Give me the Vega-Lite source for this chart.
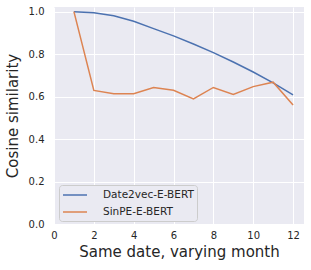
{
  "$schema": "https://vega.github.io/schema/vega-lite/v6.json",
  "autosize": "none",
  "width": 250,
  "height": 217,
  "padding": {"left": 54, "top": 7, "right": 7, "bottom": 46},
  "background": "white",
  "config": {
    "view": {"fill": "#EAEAF2", "stroke": null},
    "font": "DejaVu Sans",
    "axis": {
      "grid": true, "gridColor": "white", "gridWidth": 1, "gridOpacity": 1,
      "domain": false, "ticks": false,
      "labelColor": "#262626", "labelFontSize": 10, "labelFont": "DejaVu Sans",
      "titleColor": "#262626", "titleFontSize": 15, "titleFontWeight": "normal", "titleFont": "DejaVu Sans"
    }
  },
  "data": {
    "values": [
      {"month": 1, "sim": 1.0, "model": "Date2vec-E-BERT"},
      {"month": 2, "sim": 0.995, "model": "Date2vec-E-BERT"},
      {"month": 3, "sim": 0.981, "model": "Date2vec-E-BERT"},
      {"month": 4, "sim": 0.955, "model": "Date2vec-E-BERT"},
      {"month": 5, "sim": 0.92, "model": "Date2vec-E-BERT"},
      {"month": 6, "sim": 0.886, "model": "Date2vec-E-BERT"},
      {"month": 7, "sim": 0.848, "model": "Date2vec-E-BERT"},
      {"month": 8, "sim": 0.807, "model": "Date2vec-E-BERT"},
      {"month": 9, "sim": 0.763, "model": "Date2vec-E-BERT"},
      {"month": 10, "sim": 0.716, "model": "Date2vec-E-BERT"},
      {"month": 11, "sim": 0.665, "model": "Date2vec-E-BERT"},
      {"month": 12, "sim": 0.608, "model": "Date2vec-E-BERT"},
      {"month": 1, "sim": 1.0, "model": "SinPE-E-BERT"},
      {"month": 2, "sim": 0.629, "model": "SinPE-E-BERT"},
      {"month": 3, "sim": 0.614, "model": "SinPE-E-BERT"},
      {"month": 4, "sim": 0.614, "model": "SinPE-E-BERT"},
      {"month": 5, "sim": 0.643, "model": "SinPE-E-BERT"},
      {"month": 6, "sim": 0.63, "model": "SinPE-E-BERT"},
      {"month": 7, "sim": 0.589, "model": "SinPE-E-BERT"},
      {"month": 8, "sim": 0.643, "model": "SinPE-E-BERT"},
      {"month": 9, "sim": 0.61, "model": "SinPE-E-BERT"},
      {"month": 10, "sim": 0.647, "model": "SinPE-E-BERT"},
      {"month": 11, "sim": 0.668, "model": "SinPE-E-BERT"},
      {"month": 12, "sim": 0.561, "model": "SinPE-E-BERT"}
    ]
  },
  "mark": {"type": "line", "strokeWidth": 1.5},
  "encoding": {
    "x": {
      "field": "month", "type": "quantitative",
      "scale": {"domain": [0, 12.55], "nice": false, "zero": false},
      "axis": {"values": [0, 2, 4, 6, 8, 10, 12], "title": "Same date, varying month", "labelPadding": 6, "titlePadding": 4, "labelFlush": false}
    },
    "y": {
      "field": "sim", "type": "quantitative",
      "scale": {"domain": [0, 1.022], "nice": false, "zero": false},
      "axis": {"values": [0, 0.2, 0.4, 0.6, 0.8, 1.0], "format": ".1f", "title": "Cosine similarity", "labelPadding": 10, "titlePadding": 8, "labelFlush": false}
    },
    "color": {
      "field": "model", "type": "nominal",
      "scale": {"domain": ["Date2vec-E-BERT", "SinPE-E-BERT"], "range": ["#4C72B0", "#DD8452"]},
      "legend": {
        "title": null, "orient": "none", "legendX": 5, "legendY": 178,
        "symbolType": "M-2,0H2", "symbolSize": 144, "symbolStrokeWidth": 1.5, "symbolOffset": 6,
        "labelFontSize": 10.5, "labelColor": "#262626", "labelFont": "DejaVu Sans",
        "fillColor": "#EAEAF2", "strokeColor": "#CCCCCC", "cornerRadius": 3,
        "padding": 3, "rowPadding": 4, "labelOffset": 21
      }
    }
  }
}
